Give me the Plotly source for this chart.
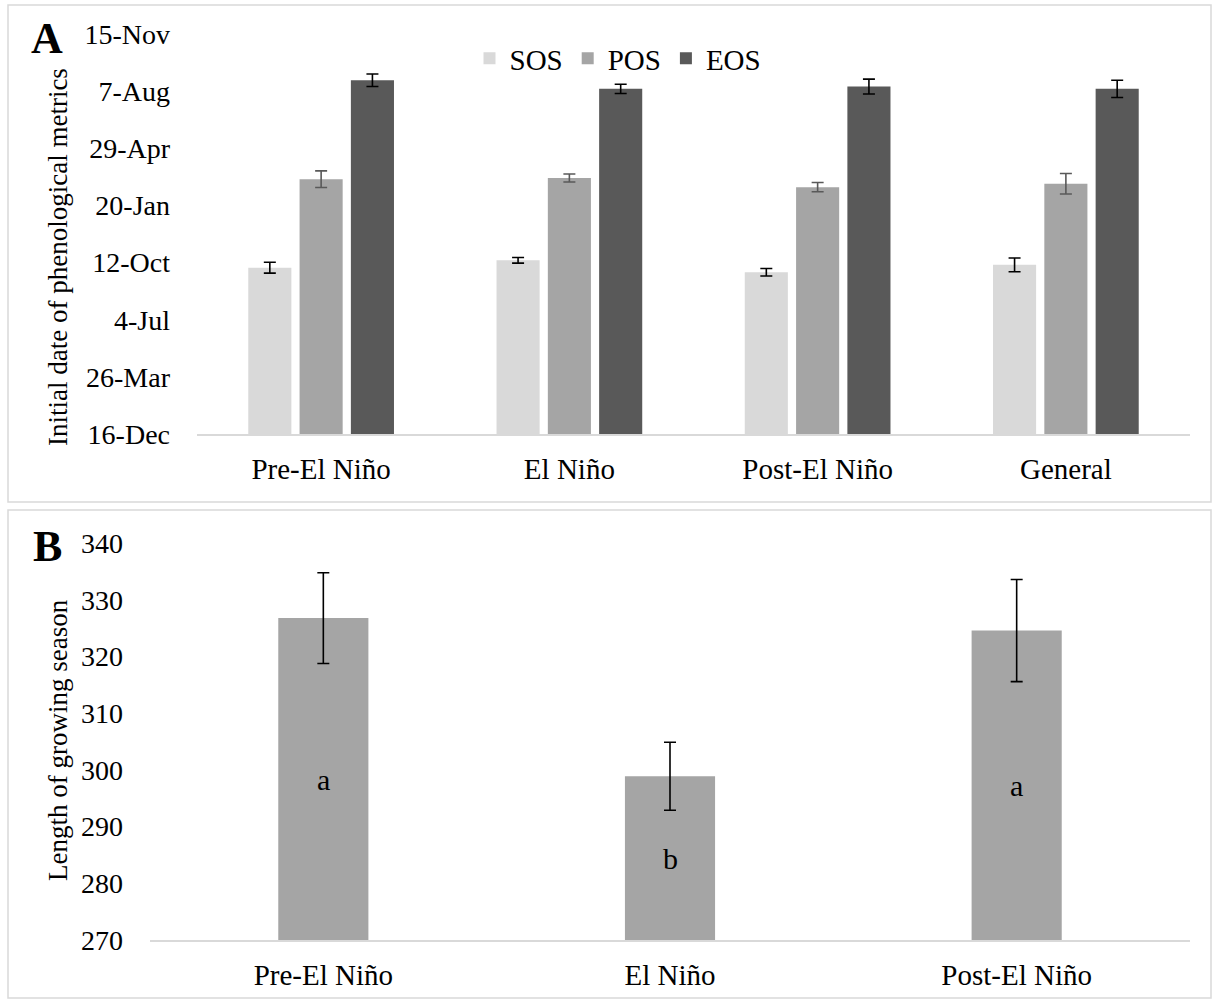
import plotly.graph_objects as go

# Panel A: phenological metric dates, in days after 16-Dec
periods_a = ["Pre-El Niño", "El Niño", "Post-El Niño", "General"]
sos_days = [291, 304, 283, 296]
sos_err = [9.5, 5, 6.5, 12]
pos_days = [446, 448, 432, 438]
pos_err = [14.5, 7, 8, 18]
eos_days = [619, 604, 608, 604]
eos_err = [11, 8, 13, 15]
date_tick_vals = [0, 100, 200, 300, 400, 500, 600, 700]
date_tick_text = ["16-Dec", "26-Mar", "4-Jul", "12-Oct", "20-Jan", "29-Apr", "7-Aug", "15-Nov"]

# Panel B: length of growing season (days)
periods_b = ["Pre-El Niño", "El Niño", "Post-El Niño"]
season_length = [326.8, 298.9, 324.6]
season_err = [8, 6, 9]
group_letters = ["a", "b", "a"]
season_axis_min = 270

W, H = 1217, 1002
FONT = "Liberation Serif"


def px_x(v):
    return v / W


def px_y(v):
    return 1 - v / H


fig = go.Figure()

series = [
    ("SOS", sos_days, sos_err, "#d9d9d9", "#000000"),
    ("POS", pos_days, pos_err, "#a5a5a5", "#595959"),
    ("EOS", eos_days, eos_err, "#595959", "#000000"),
]
for name, vals, errs, col, ecol in series:
    fig.add_trace(go.Bar(
        x=periods_a, y=vals, name=name, marker=dict(color=col, line=dict(width=0)),
        error_y=dict(type="data", array=errs, color=ecol, thickness=1.6, width=6),
        xaxis="x", yaxis="y",
    ))

fig.add_trace(go.Bar(
    x=periods_b, y=season_length, name="LGS", showlegend=False,
    width=0.26, marker=dict(color="#a5a5a5", line=dict(width=0)),
    error_y=dict(type="data", array=season_err, color="#000000", thickness=1.6, width=6),
    xaxis="x2", yaxis="y2",
))

# Significance letters centred in the visible part of each bar
for cat, val, letter in zip(periods_b, season_length, group_letters):
    fig.add_annotation(text=letter, x=cat, y=(season_axis_min + val) / 2,
                       xref="x2", yref="y2", showarrow=False,
                       xanchor="center", yanchor="middle",
                       font=dict(family=FONT, size=30, color="#000"))

axis_line = dict(showline=True, linecolor="#d9d9d9", linewidth=1.5, showgrid=False,
                 zeroline=False, ticks="", automargin=False,
                 tickfont=dict(family=FONT, size=29, color="#000"))
yaxis_common = dict(showline=False, showgrid=False, zeroline=False, ticks="",
                    automargin=False, tickfont=dict(family=FONT, size=28, color="#000"))

fig.update_layout(
    width=W, height=H, margin=dict(l=0, r=0, t=0, b=0, autoexpand=False),
    paper_bgcolor="white", plot_bgcolor="white",
    font=dict(family=FONT, color="#000"),
    barmode="group", bargap=0.38, bargroupgap=0.16,
    xaxis=dict(domain=[px_x(197), px_x(1190)], anchor="y", ticklabelstandoff=8, **axis_line),
    yaxis=dict(domain=[px_y(434), px_y(34)], anchor="x", range=[0, 700],
               tickvals=date_tick_vals, ticktext=date_tick_text, ticklabelstandoff=26,
               **yaxis_common),
    xaxis2=dict(domain=[px_x(150), px_x(1190)], anchor="y2", ticklabelstandoff=8, **axis_line),
    yaxis2=dict(domain=[px_y(940), px_y(543.3)], anchor="x2", range=[season_axis_min, 340],
                dtick=10, ticklabelstandoff=26, **yaxis_common),
    legend=dict(orientation="h", x=px_x(618), xanchor="center", y=px_y(33), yanchor="top",
                font=dict(family=FONT, size=29, color="#000"), bgcolor="rgba(0,0,0,0)",
                traceorder="normal", itemwidth=30),
    showlegend=True,
)

# Panel frames
fig.add_shape(type="rect", xref="paper", yref="paper",
              x0=px_x(8), x1=px_x(1211), y0=px_y(502), y1=px_y(5),
              line=dict(color="#d9d9d9", width=1.5), layer="below")
fig.add_shape(type="rect", xref="paper", yref="paper",
              x0=px_x(8), x1=px_x(1211), y0=px_y(998), y1=px_y(510),
              line=dict(color="#d9d9d9", width=1.5), layer="below")

# Panel letters and axis titles
for letter, yc in [("A", 38), ("B", 546)]:
    fig.add_annotation(text="<b>%s</b>" % letter, xref="paper", yref="paper",
                       x=px_x(47), y=px_y(yc), xanchor="center", yanchor="middle",
                       showarrow=False, font=dict(family=FONT, size=44, color="#000"))

fig.add_annotation(text="Initial date of phenological metrics", textangle=-90,
                   xref="paper", yref="paper", x=px_x(58), y=px_y(257),
                   xanchor="center", yanchor="middle", showarrow=False,
                   font=dict(family=FONT, size=27, color="#000"))
fig.add_annotation(text="Length of growing season", textangle=-90,
                   xref="paper", yref="paper", x=px_x(58), y=px_y(740),
                   xanchor="center", yanchor="middle", showarrow=False,
                   font=dict(family=FONT, size=27, color="#000"))

fig.write_html("out.html")
